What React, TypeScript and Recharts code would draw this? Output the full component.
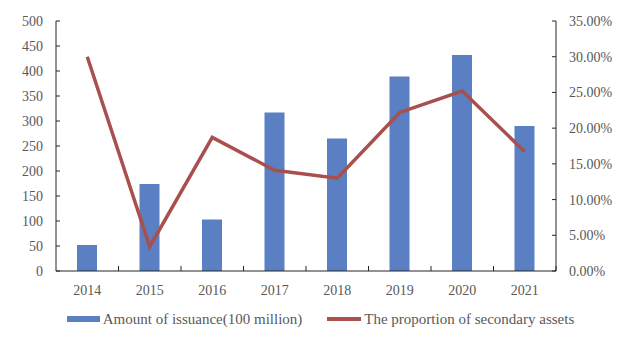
import { ComposedChart, Bar, Line, XAxis, YAxis, Legend } from 'recharts'

const YEARS = ['2014', '2015', '2016', '2017', '2018', '2019', '2020', '2021']
const ISSUANCE = [52, 174, 103, 317, 265, 389, 432, 290]
const SECONDARY_SHARE = [0.300, 0.034, 0.187, 0.141, 0.130, 0.222, 0.252, 0.167]
const LEFT_TICKS = [0, 50, 100, 150, 200, 250, 300, 350, 400, 450, 500]
const RIGHT_TICKS = [0, 0.05, 0.1, 0.15, 0.2, 0.25, 0.3, 0.35]

const BAR_LABEL = 'Amount of issuance(100 million)'
const LINE_LABEL = 'The proportion of secondary assets'

const BAR_COLOR = '#5b7fc3'
const LINE_COLOR = '#a8504d'
const AXIS_COLOR = '#262626'
const TEXT_COLOR = '#595959'
const FONT = "'Liberation Serif', 'Times New Roman', serif"

const data = YEARS.map((year, i) => ({ year, amount: ISSUANCE[i], share: SECONDARY_SHARE[i] }))

const MARGIN = 13

function LeftTick(props: any) {
  const { x, y, payload } = props
  const ax = x + MARGIN
  return (
    <g>
      <line x1={ax} x2={ax + 4} y1={y} y2={y} stroke={AXIS_COLOR} />
      <text x={x} y={y} dy={5} textAnchor="end" fill={TEXT_COLOR} fontSize={14} fontFamily={FONT}>
        {payload.value}
      </text>
    </g>
  )
}

function RightTick(props: any) {
  const { x, y, payload } = props
  const ax = x - MARGIN
  return (
    <g>
      <line x1={ax} x2={ax - 4} y1={y} y2={y} stroke={AXIS_COLOR} />
      <text x={x} y={y} dy={5} textAnchor="start" fill={TEXT_COLOR} fontSize={14} fontFamily={FONT}>
        {(payload.value * 100).toFixed(2) + '%'}
      </text>
    </g>
  )
}

function BottomTick(props: any) {
  const { x, y, payload, width, visibleTicksCount } = props
  const half = width / visibleTicksCount / 2
  const ay = y - 8
  return (
    <g>
      <line x1={x + half} x2={x + half} y1={ay} y2={ay - 5} stroke={AXIS_COLOR} />
      <text x={x} y={y} dy={16} textAnchor="middle" fill={TEXT_COLOR} fontSize={14} fontFamily={FONT}>
        {payload.value}
      </text>
    </g>
  )
}

function LegendContent() {
  return (
    <div style={{ display: 'flex', justifyContent: 'center', alignItems: 'center', gap: 25, height: 24, fontFamily: FONT, fontSize: 15, color: TEXT_COLOR }}>
      <div style={{ display: 'flex', alignItems: 'center', gap: 3 }}>
        <span style={{ display: 'inline-block', width: 33, height: 6, background: BAR_COLOR }} />
        <span>{BAR_LABEL}</span>
      </div>
      <div style={{ display: 'flex', alignItems: 'center', gap: 3 }}>
        <span style={{ display: 'inline-block', width: 34, height: 4, background: LINE_COLOR }} />
        <span>{LINE_LABEL}</span>
      </div>
    </div>
  )
}

export default function App() {
  return (
    <div style={{ position: 'absolute', left: 0, top: 0, width: 641, height: 341, background: '#fff' }}>
      <ComposedChart width={641} height={341} data={data} margin={{ top: 21, right: 25, left: 12, bottom: 16 }}>
        <XAxis
          dataKey="year"
          height={30}
          stroke={AXIS_COLOR}
          tickLine={false}
          tickSize={0}
          tickMargin={8}
          tick={<BottomTick />}
          interval={0}
        />
        <YAxis
          yAxisId="left"
          width={44}
          domain={[0, 500]}
          ticks={LEFT_TICKS}
          stroke={AXIS_COLOR}
          tickLine={false}
          tickSize={0}
          tickMargin={MARGIN}
          tick={<LeftTick />}
          interval={0}
        />
        <YAxis
          yAxisId="right"
          orientation="right"
          width={60}
          domain={[0, 0.35]}
          ticks={RIGHT_TICKS}
          stroke={AXIS_COLOR}
          tickLine={false}
          tickSize={0}
          tickMargin={MARGIN}
          tick={<RightTick />}
          interval={0}
        />
        <Legend
          content={<LegendContent />}
          verticalAlign="bottom"
          wrapperStyle={{ left: 0, top: 307, width: 641 }}
        />
        <Bar yAxisId="left" dataKey="amount" name={BAR_LABEL} fill={BAR_COLOR} barSize={20} isAnimationActive={false} />
        <Line
          yAxisId="right"
          dataKey="share"
          name={LINE_LABEL}
          stroke={LINE_COLOR}
          strokeWidth={3.5}
          dot={false}
          activeDot={false}
          isAnimationActive={false}
        />
      </ComposedChart>
    </div>
  )
}
